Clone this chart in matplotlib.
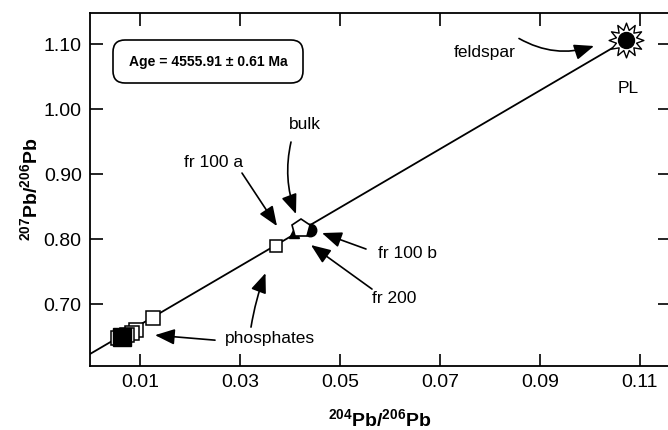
"""Pb-Pb isochron: 207Pb/206Pb vs 204Pb/206Pb with annotated fractions."""
import matplotlib
matplotlib.use("Agg")
import numpy as np
import matplotlib.pyplot as plt
from matplotlib.patches import FancyBboxPatch
from matplotlib.path import Path
from matplotlib.transforms import IdentityTransform

plt.rcParams["font.family"] = ["Liberation Sans", "DejaVu Sans"]
plt.rcParams["mathtext.fontset"] = "custom"
plt.rcParams["mathtext.rm"] = "Liberation Sans"
plt.rcParams["mathtext.bf"] = "Liberation Sans:bold"

# ---- data ----
iso_x = [0.0, 0.1073]
iso_y = [0.623, 1.107]

phos_open_x = [0.0125, 0.0092, 0.0083, 0.0074, 0.0056]
phos_open_y = [0.6789, 0.660, 0.656, 0.652, 0.647]
phos_black_x = [0.0063]
phos_black_y = [0.6487]

fr100a_x, fr100a_y = [0.0371], [0.7897]
fr200_x, fr200_y = [0.0408], [0.8090]
fr100b_x, fr100b_y = [0.0439], [0.8139]
bulk_x, bulk_y = [0.0423], [0.8165]
pl_x, pl_y = [0.1073], [1.107]

xticks = [0.01, 0.03, 0.05, 0.07, 0.09, 0.11]
yticks = [0.70, 0.80, 0.90, 1.00, 1.10]
age_text = "Age = 4555.91 ± 0.61 Ma"

# (label, text pos, arrow tail, arrow head, curvature)
notes = [
    ("feldspar", (0.079, 1.0881), (0.0858, 1.1090), (0.1008, 1.0974), 0.22),
    ("bulk", (0.043, 0.9772), (0.0402, 0.9495), (0.0412, 0.8386), 0.15),
    ("fr 100 a", (0.0248, 0.9186), (0.0304, 0.9017), (0.0374, 0.8200), 0.0),
    ("fr 100 b", (0.0636, 0.7784), (0.0552, 0.7847), (0.0464, 0.8093), 0.0),
    ("fr 200", (0.0608, 0.7091), (0.0564, 0.7230), (0.0442, 0.7908), 0.0),
    ("phosphates", (0.036, 0.6474), (0.0250, 0.6443), (0.0130, 0.6520), 0.0),
    ("", None, (0.0322, 0.6644), (0.0351, 0.7476), -0.05),
]

fig = plt.figure(figsize=(6.68, 4.30), dpi=100)
ax = fig.add_axes([90 / 668, 1 - 366 / 430, 580 / 668, (366 - 12.7) / 430])

ax.plot(iso_x, iso_y, color="black", lw=1.3, zorder=2)

# phosphates: stacked open squares, black one in front
ax.plot(phos_open_x, phos_open_y, ls="none", marker="s", ms=10, mfc="white",
        mec="black", mew=1.1, zorder=3)
ax.plot(phos_black_x, phos_black_y, ls="none", marker="s", ms=13, mfc="black",
        mec="black", mew=1.0, zorder=4)

ax.plot(fr100a_x, fr100a_y, ls="none", marker="s", ms=8.5, mfc="white",
        mec="black", mew=1.1, zorder=3)
ax.plot(fr200_x, fr200_y, ls="none", marker="^", ms=7, mfc="black",
        mec="black", zorder=3)
ax.plot(fr100b_x, fr100b_y, ls="none", marker="o", ms=9, mfc="black",
        mec="black", zorder=3)
ax.plot(bulk_x, bulk_y, ls="none", marker="p", ms=13.5, mfc="white",
        mec="black", mew=1.2, zorder=4)

# plagioclase: spiky sun
sun = Path.unit_regular_star(12, 0.6)
ax.plot(pl_x, pl_y, ls="none", marker=sun, ms=25, mfc="white", mec="black",
        mew=1.0, zorder=4)
ax.plot(pl_x, pl_y, ls="none", marker="o", ms=11.5, mfc="black", mec="black",
        zorder=5)
ax.text(0.1076, 1.0327, "PL", fontsize=12.5, ha="center", va="center")

for label, tpos, tail, head, rad in notes:
    if label:
        ax.text(tpos[0], tpos[1], label, fontsize=12.5, ha="center", va="center")
    ax.annotate("", xy=head, xytext=tail,
                arrowprops=dict(arrowstyle="-|>,head_length=0.8,head_width=0.32",
                                mutation_scale=15, lw=1.2, color="black",
                                shrinkA=0, shrinkB=0,
                                connectionstyle=f"arc3,rad={rad}"))

# age box (pixel coordinates)
box = FancyBboxPatch((113, 430 - 83), 190, 43,
                     boxstyle="round,pad=0,rounding_size=12",
                     transform=IdentityTransform(), fc="white", ec="black",
                     lw=1.2, zorder=6)
fig.patches.append(box)
fig.text(208 / 668, 1 - 62 / 430, age_text, fontsize=10, fontweight="bold",
         ha="center", va="center", zorder=7)

ax.set_xlim(0.0, 0.116)
ax.set_ylim(0.6045, 1.1487)
ax.set_xticks(xticks)
ax.set_yticks(yticks)
ax.set_xticklabels([f"{v:.2f}" for v in xticks])
ax.set_yticklabels([f"{v:.2f}" for v in yticks])
ax.tick_params(direction="in", length=9, width=1.2, labelsize=14,
               top=True, right=True, pad=6)
for s in ax.spines.values():
    s.set_linewidth(1.3)

ax.set_xlabel(r"$\mathbf{^{204}Pb/^{206}Pb}$", fontsize=14, labelpad=12)
ax.set_ylabel(r"$\mathbf{^{207}Pb/^{206}Pb}$", fontsize=14, labelpad=2)

fig.savefig("out.png", dpi=100)
